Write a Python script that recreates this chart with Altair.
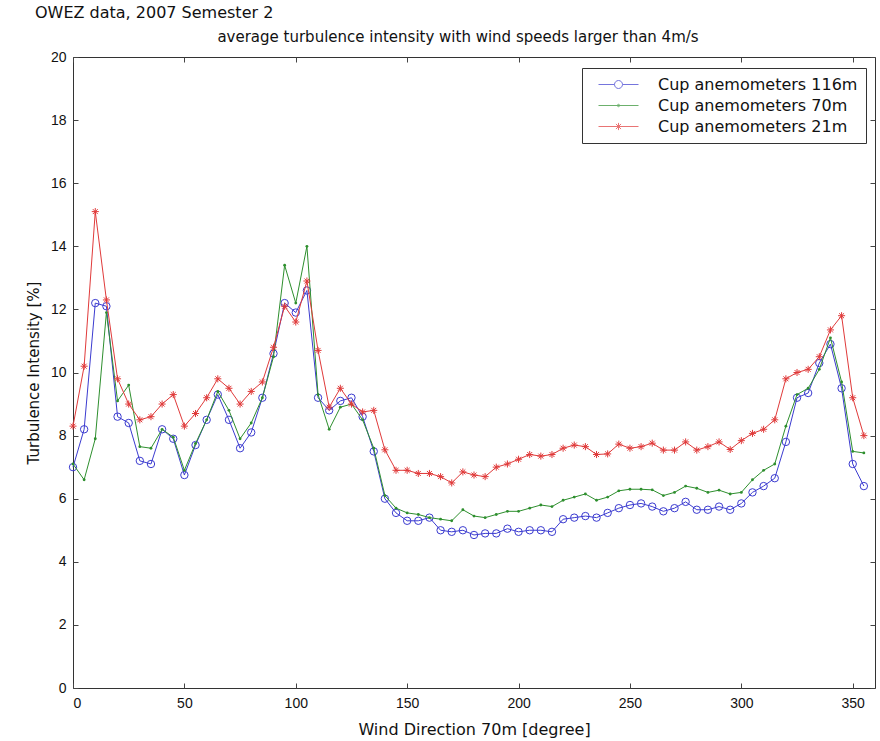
import altair as alt
import pandas as pd

# ---------------- data ----------------
directions = [0, 5, 10, 15, 20, 25, 30, 35, 40, 45, 50, 55, 60, 65, 70, 75, 80, 85,
              90, 95, 100, 105, 110, 115, 120, 125, 130, 135, 140, 145, 150, 155, 160, 165,
              170, 175, 180, 185, 190, 195, 200, 205, 210, 215, 220, 225, 230, 235, 240, 245,
              250, 255, 260, 265, 270, 275, 280, 285, 290, 295, 300, 305, 310, 315, 320, 325,
              330, 335, 340, 345, 350, 355]

ti_116m = [7.0, 8.2, 12.2, 12.1, 8.6, 8.4, 7.2, 7.1, 8.2, 7.9, 6.75, 7.7, 8.5, 9.3, 8.5, 7.6, 8.1, 9.2,
           10.6, 12.2, 11.9, 12.6, 9.2, 8.8, 9.1, 9.2, 8.6, 7.5, 6.0, 5.55, 5.3, 5.3, 5.4, 5.0,
           4.95, 5.0, 4.85, 4.9, 4.9, 5.05, 4.95, 5.0, 5.0, 4.95, 5.35, 5.4, 5.45, 5.4, 5.55, 5.7,
           5.8, 5.85, 5.75, 5.6, 5.7, 5.9, 5.65, 5.65, 5.75, 5.65, 5.85, 6.2, 6.4, 6.65, 7.8, 9.2,
           9.35, 10.3, 10.9, 9.5, 7.1, 6.4]

ti_70m = [7.1, 6.6, 7.9, 11.9, 9.1, 9.6, 7.65, 7.6, 8.2, 7.95, 6.9, 7.75, 8.5, 9.4, 8.8, 7.9, 8.4, 9.2,
          10.5, 13.4, 12.2, 14.0, 9.3, 8.2, 8.9, 9.0, 8.5, 7.6, 6.1, 5.7, 5.55, 5.5, 5.4, 5.35,
          5.3, 5.65, 5.45, 5.4, 5.5, 5.6, 5.6, 5.7, 5.8, 5.75, 5.95, 6.05, 6.15, 5.95, 6.05, 6.25,
          6.3, 6.3, 6.28, 6.1, 6.2, 6.4, 6.33, 6.2, 6.27, 6.15, 6.2, 6.6, 6.9, 7.1, 8.3, 9.3,
          9.5, 10.1, 11.1, 9.7, 7.5, 7.45]

ti_21m = [8.3, 10.2, 15.1, 12.3, 9.8, 9.0, 8.5, 8.6, 9.0, 9.3, 8.3, 8.7, 9.2, 9.8, 9.5, 9.0, 9.4, 9.7,
          10.8, 12.1, 11.6, 12.9, 10.7, 8.9, 9.5, 9.0, 8.75, 8.8, 7.55, 6.9, 6.9, 6.8, 6.8, 6.7,
          6.5, 6.85, 6.75, 6.7, 7.0, 7.1, 7.25, 7.4, 7.35, 7.4, 7.6, 7.7, 7.65, 7.4, 7.42, 7.73,
          7.6, 7.65, 7.76, 7.54, 7.54, 7.8, 7.54, 7.65, 7.8, 7.56, 7.84, 8.07, 8.2, 8.5, 9.8, 10.0,
          10.1, 10.5, 11.35, 11.8, 9.2, 8.0]

series_names = ["Cup anemometers 116m", "Cup anemometers 70m", "Cup anemometers 21m"]
x_ticks = [0, 50, 100, 150, 200, 250, 300, 350]
y_ticks = [0, 2, 4, 6, 8, 10, 12, 14, 16, 18, 20]

header_line = "OWEZ data, 2007 Semester 2"
title_line = "average turbulence intensity with wind speeds larger than 4m/s"
x_title = "Wind Direction 70m [degree]"
y_title = "Turbulence Intensity [%]"

# ---------------- styles ----------------
colors = ["#3b3bd0", "#2e8f2e", "#e03a3a"]
FONT = "Liberation Sans"
WIDE = "DejaVu Sans"
ASTERISK = "M-1,0L1,0M0,-1L0,1M-0.7,-0.7L0.7,0.7M-0.7,0.7L0.7,-0.7"
legend_paths = [
    "M-2.5,0L-0.5,0M0.5,0L2.5,0M-0.5,0A0.5,0.5 0 1,0 0.5,0A0.5,0.5 0 1,0 -0.5,0",
    "M-2.5,0L2.5,0M-0.15,0A0.15,0.15 0 1,0 0.15,0A0.15,0.15 0 1,0 -0.15,0",
    "M-2.5,0L2.5,0M0,-0.45L0,0.45M-0.45,0L0.45,0M-0.32,-0.32L0.32,0.32M-0.32,0.32L0.32,-0.32",
]

rows = []
for name, vals in zip(series_names, [ti_116m, ti_70m, ti_21m]):
    for d, v in zip(directions, vals):
        rows.append({"dir": d, "ti": v, "series": name})
df = pd.DataFrame(rows)

W, H = 802, 631
xscale = alt.Scale(domain=[0, 360], nice=False, zero=False)
yscale = alt.Scale(domain=[0, 20], nice=False)

x_axis = alt.Axis(values=x_ticks, offset=-5, tickSize=5, domain=False, grid=False,
                  labelPadding=8, title=x_title, titlePadding=11, format="d",
                  titleFont=WIDE, titleFontSize=16)
y_axis = alt.Axis(values=y_ticks, offset=-5, tickSize=5, domain=False, grid=False,
                  labelPadding=7, title=y_title, titlePadding=9, format="d",
                  titleFont=WIDE, titleFontSize=15)

layers = []
for i, name in enumerate(series_names):
    base = alt.Chart(df).transform_filter(alt.datum.series == name)
    enc = dict(x=alt.X("dir:Q", scale=xscale, axis=x_axis),
               y=alt.Y("ti:Q", scale=yscale, axis=y_axis))
    layers.append(base.mark_line(color=colors[i], strokeWidth=1).encode(**enc))
    if i == 0:
        pts = base.mark_point(shape="circle", filled=False, color=colors[i], size=55, strokeWidth=1, opacity=1)
    elif i == 1:
        pts = base.mark_point(shape="circle", filled=True, color=colors[i], size=8, opacity=1)
    else:
        pts = base.mark_point(shape=ASTERISK, filled=False, color=colors[i], size=50, strokeWidth=1, opacity=1)
    layers.append(pts.encode(**enc))

texts = pd.DataFrame({"t": [header_line, title_line]})
header = alt.Chart(texts).transform_filter(alt.datum.t == header_line).mark_text(
    align="left", baseline="middle", font=WIDE, fontSize=16, color="#111"
).encode(text="t:N", x=alt.value(-38), y=alt.value(-44))
subtitle = alt.Chart(texts).transform_filter(alt.datum.t == title_line).mark_text(
    align="center", baseline="middle", font=WIDE, fontSize=15, color="#111"
).encode(text="t:N", x=alt.value(385), y=alt.value(-20))
layers += [header, subtitle]

main = alt.layer(*layers)

legend_kw = dict(orient="none", legendX=509, legendY=11, padding=8, strokeColor="#333",
                 fillColor="white", symbolSize=256, symbolStrokeWidth=1, symbolOffset=20,
                 labelOffset=31, labelFont=WIDE, labelFontSize=16, labelColor="#111",
                 labelLimit=400, rowPadding=4, cornerRadius=0)

frame = alt.Chart(df).transform_filter("false").mark_point(filled=False, strokeWidth=1).encode(
    x=alt.X("dir:Q", scale=xscale,
            axis=alt.Axis(orient="top", values=x_ticks, offset=-5, tickSize=5, labels=False,
                          domain=False, grid=False, title=None)),
    y=alt.Y("ti:Q", scale=yscale,
            axis=alt.Axis(orient="right", values=y_ticks, offset=-5, tickSize=5, labels=False,
                          domain=False, grid=False, title=None)),
    color=alt.Color("series:N", scale=alt.Scale(domain=series_names, range=colors),
                    title=None, legend=alt.Legend(**legend_kw)),
    shape=alt.Shape("series:N", scale=alt.Scale(domain=series_names, range=legend_paths),
                    title=None, legend=alt.Legend(**legend_kw)),
)

chart = alt.layer(main, frame).resolve_axis(x="independent", y="independent").properties(
    width=W, height=H,
    autosize=alt.AutoSizeParams(type="none"),
    padding={"left": 73, "top": 57, "right": 5, "bottom": 53},
    background="white",
).configure_view(stroke="#333", strokeWidth=1).configure_axis(
    labelFont=FONT, labelFontSize=14,
    labelColor="#111", titleColor="#111", titleFontWeight="normal",
    tickColor="#444", tickWidth=1,
)

chart.save("out.html", embed_options={"renderer": "svg", "actions": False})
